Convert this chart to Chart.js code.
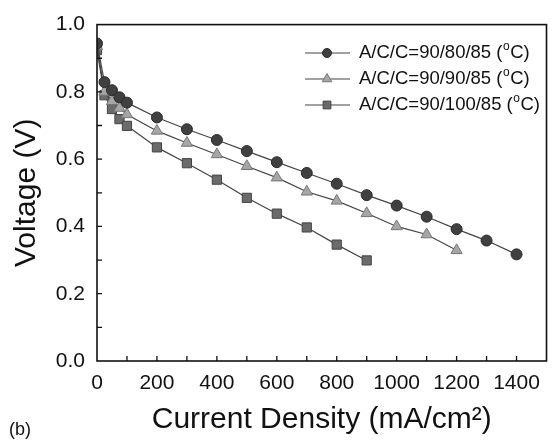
<!DOCTYPE html>
<html>
<head>
<meta charset="utf-8">
<script src="https://cdn.jsdelivr.net/npm/chart.js@4/dist/chart.umd.min.js"></script>
<style>
  html, body { margin: 0; padding: 0; background: #fff; }
  #wrap { position: relative; width: 554px; height: 440px; }
</style>
</head>
<body>
<div id="wrap"><canvas id="chart" width="554" height="440"></canvas></div>
<script>
// данные
const currentDensity = [0, 25, 50, 75, 100, 200, 300, 400, 500, 600, 700, 800, 900, 1000, 1100, 1200, 1300, 1400];
const voltage80 = [0.944, 0.829, 0.805, 0.784, 0.768, 0.724, 0.689, 0.657, 0.624, 0.591, 0.559, 0.527, 0.493, 0.462, 0.429, 0.392, 0.358, 0.317];
const voltage90 = [0.935, 0.800, 0.772, 0.752, 0.733, 0.684, 0.648, 0.614, 0.579, 0.545, 0.503, 0.476, 0.439, 0.400, 0.376, 0.329];
const voltage100 = [0.924, 0.790, 0.749, 0.719, 0.699, 0.635, 0.588, 0.539, 0.485, 0.438, 0.397, 0.346, 0.299];
const seriesNames = ['A/C/C=90/80/85', 'A/C/C=90/90/85', 'A/C/C=90/100/85'];
const xTicks = [0, 200, 400, 600, 800, 1000, 1200, 1400];
const yTicks = [0.0, 0.2, 0.4, 0.6, 0.8, 1.0];

const FONT = 'Liberation Sans, Arial, Helvetica, sans-serif';

const styles = [
    {pointStyle: 'circle', radius: 5.5, fill: '#404040', stroke: '#2a2a2a'},
    {pointStyle: 'triangle', radius: 6.5, fill: '#a6a6a6', stroke: '#777777'},
    {pointStyle: 'rect', radius: 6.5, fill: '#6b6b6b', stroke: '#444444'},
];

function toPoints(values) {
    return values.map((v, i) => ({x: currentDensity[i], y: v}));
}

const datasets = [voltage80, voltage90, voltage100].map((vals, i) => ({
    label: seriesNames[i],
    data: toPoints(vals),
    borderColor: '#444444',
    borderWidth: 1.2,
    pointStyle: styles[i].pointStyle,
    pointRadius: styles[i].radius,
    pointBackgroundColor: styles[i].fill,
    pointBorderColor: styles[i].stroke,
    pointBorderWidth: 1,
    tension: 0,
}));

// рамка, внутренние засечки, легенда и подпись (b)
const framePlugin = {
    id: 'frame',
    afterDraw(chart) {
        const ctx = chart.ctx;
        const a = chart.chartArea;
        const xs = chart.scales.x;
        const ys = chart.scales.y;
        ctx.save();
        ctx.strokeStyle = '#111';
        ctx.lineWidth = 1.6;
        ctx.strokeRect(a.left, a.top, a.right - a.left, a.bottom - a.top);

        ctx.lineWidth = 1.3;
        ctx.beginPath();
        for (let v = 100; v <= 1400; v += 100) {
            const px = xs.getPixelForValue(v);
            ctx.moveTo(px, a.bottom);
            ctx.lineTo(px, a.bottom - 5);
        }
        for (let k = 1; k < 10; k++) {
            const py = ys.getPixelForValue(k / 10);
            ctx.moveTo(a.left, py);
            ctx.lineTo(a.left + 5, py);
        }
        ctx.stroke();

        // легенда
        const rowsY = [53, 79, 105];
        chart.data.datasets.forEach((ds, i) => {
            const y = rowsY[i];
            ctx.strokeStyle = '#444';
            ctx.lineWidth = 1.2;
            ctx.beginPath();
            ctx.moveTo(305, y);
            ctx.lineTo(350, y);
            ctx.stroke();
            ctx.fillStyle = styles[i].fill;
            ctx.strokeStyle = styles[i].stroke;
            ctx.lineWidth = 1;
            Chart.helpers.drawPoint(ctx, {
                pointStyle: styles[i].pointStyle,
                radius: styles[i].radius - 1,
                borderWidth: 1,
            }, 327, y);

            ctx.fillStyle = '#111';
            ctx.textBaseline = 'middle';
            ctx.textAlign = 'left';
            ctx.font = '18.5px ' + FONT;
            let x = 359;
            const main = ds.label + ' (';
            ctx.fillText(main, x, y);
            x += ctx.measureText(main).width;
            ctx.font = '12px ' + FONT;
            ctx.fillText('o', x + 0.5, y - 6);
            x += ctx.measureText('o').width + 1;
            ctx.font = '18.5px ' + FONT;
            ctx.fillText('C)', x, y);
        });

        ctx.font = '18px ' + FONT;
        ctx.fillStyle = '#111';
        ctx.textAlign = 'left';
        ctx.textBaseline = 'middle';
        ctx.fillText('(b)', 9, 430);
        ctx.restore();
    }
};

new Chart(document.getElementById('chart'), {
    type: 'line',
    data: {datasets},
    options: {
        responsive: false,
        animation: false,
        layout: {padding: {left: 0, right: 2, top: 21, bottom: 0}},
        plugins: {
            legend: {display: false},
            tooltip: {enabled: false},
        },
        scales: {
            x: {
                type: 'linear',
                min: 0,
                max: 1500,
                afterBuildTicks: (scale) => { scale.ticks = xTicks.map(v => ({value: v})); },
                afterFit: (scale) => { scale.height = 79; },
                grid: {display: false, drawTicks: false},
                border: {display: false},
                ticks: {
                    color: '#111',
                    font: {family: FONT, size: 21},
                    padding: 10,
                    maxRotation: 0,
                    callback: (v) => String(v),
                },
                title: {
                    display: true,
                    text: 'Current Density (mA/cm²)',
                    color: '#111',
                    font: {family: FONT, size: 30},
                    padding: {top: 0, bottom: 2},
                },
            },
            y: {
                type: 'linear',
                min: 0,
                max: 1.0,
                afterBuildTicks: (scale) => { scale.ticks = yTicks.map(v => ({value: v})); },
                afterFit: (scale) => { scale.width = 97; },
                grid: {display: false, drawTicks: false},
                border: {display: false},
                ticks: {
                    color: '#111',
                    font: {family: FONT, size: 21},
                    padding: 12,
                    callback: (v) => Number(v).toFixed(1),
                },
                title: {
                    display: true,
                    text: 'Voltage (V)',
                    color: '#111',
                    font: {family: FONT, size: 30},
                    padding: {top: 9, bottom: 0},
                },
            },
        },
    },
    plugins: [framePlugin],
});
</script>
</body>
</html>
